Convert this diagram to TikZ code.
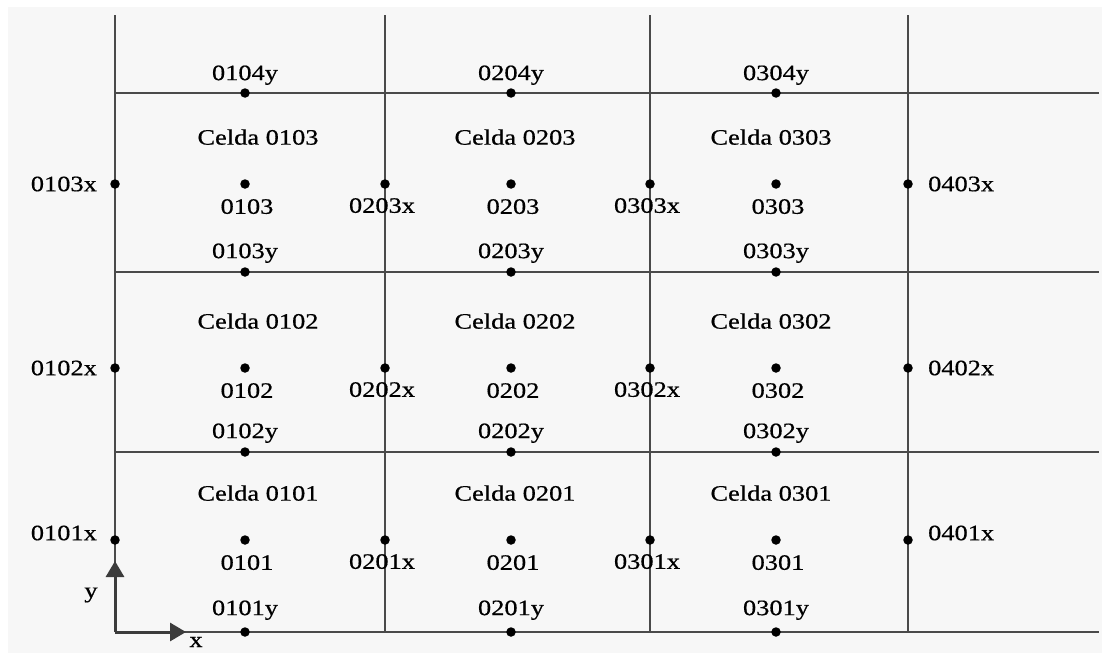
\documentclass[tikz,border=0pt]{standalone}
\usepackage{fontspec}
\setmainfont[FakeStretch=1.2,FakeBold=0.6]{Liberation Serif}
\usetikzlibrary{positioning,arrows.meta}
\definecolor{fondo}{HTML}{F7F7F7}
\definecolor{linea}{HTML}{4A4A4A}
\definecolor{ejes}{HTML}{3C3C3C}
\tikzset{punto/.style={circle,fill=black,inner sep=0pt,minimum size=9.5pt},
  etiq/.style={inner sep=1pt,font=\fontsize{22}{26}\selectfont},
  rejilla/.style={draw=linea,line width=1.9pt},
  eje/.style={draw=ejes,line width=3pt,-{Triangle[length=16pt,width=18pt]}}
}

\begin{document}
\begin{tikzpicture}[x=1pt,y=-1pt]
  \useasboundingbox (0,0) rectangle (1102,653);
  \fill[white] (0,0) rectangle (1102,653);
  \fill[fondo] (8,7) rectangle (1102,653);

  % rejilla
  \foreach \x [count=\i] in {115,385,650,908} {
    \coordinate (va\i) at (\x,15);
    \coordinate (vb\i) at (\x,632);
  }
  \foreach \y [count=\j] in {632,452,272,93} {
    \coordinate (ha\j) at (115,\y);
    \coordinate (hb\j) at (1099,\y);
  }
  \foreach \i in {1,...,4} {
    \draw[rejilla] (va\i) -- (vb\i);
    \draw[rejilla] (ha\i) -- (hb\i);
  }

  % ejes
  \coordinate (origen) at (115,632);
  \coordinate (ejey) at (115,561);
  \coordinate (ejex) at (186,632);
  \draw[eje] (origen) -- (ejey);
  \draw[eje] (origen) -- (ejex);
  \node[etiq] (ly) at (91,595) {y};
  \node[etiq] (lx) at (196,642) {x};

  % centros de celda
  \foreach \x/\dx [count=\i] in {245/13,511/4,776/-5}
    \foreach \y [count=\j] in {540,368,184} {
      \node[punto] (c\i\j) at (\x,\y) {};
      \node[etiq,below=9pt of c\i\j,xshift=2pt] (n\i\j) {0\i0\j};
      \node[etiq,above=33pt of c\i\j,xshift=\dx pt] (celda\i\j) {Celda 0\i0\j};
    }

  % puntos en las caras y
  \foreach \x [count=\i] in {245,511,776}
    \foreach \y/\g [count=\j] in {632/6,452/3,272/3,93/2} {
      \node[punto] (y\i\j) at (\x,\y) {};
      \node[etiq,above=\g pt of y\i\j] (ty\i\j) {0\i0\j y};
    }

  % puntos en las caras x
  \foreach \x [count=\i] in {115,385,650,908}
    \foreach \y [count=\j] in {540,368,184}
      \node[punto] (x\i\j) at (\x,\y) {};
  \foreach \j/\dy in {1/7,2/0,3/0} {
    \node[etiq,left=12pt of x1\j,yshift=\dy pt] (tx1\j) {010\j x};
    \node[etiq,right=14pt of x4\j,yshift=\dy pt] (tx4\j) {040\j x};
  }
  \foreach \i in {2,3}
    \foreach \j in {1,2,3}
      \node[etiq,below=8pt of x\i\j,xshift=-3pt] (tx\i\j) {0\i0\j x};
\end{tikzpicture}
\end{document}
